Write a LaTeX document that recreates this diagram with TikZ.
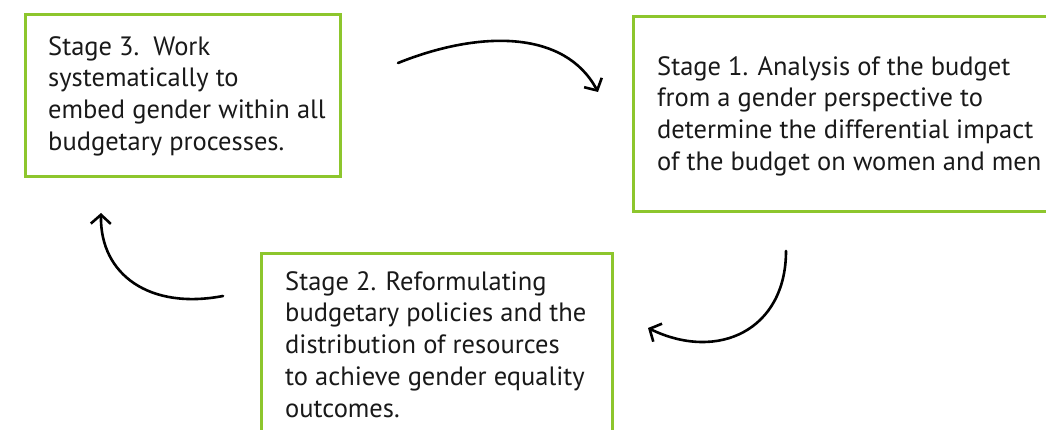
\documentclass[tikz,border=0pt]{standalone}
\usepackage{fontspec}
\setmainfont{PT Sans}
\usetikzlibrary{arrows.meta}
\definecolor{boxgreen}{RGB}{141,198,45}
\tikzset{
  stagebox/.style={draw=boxgreen, line width=2.6pt, fill=none, inner sep=0pt, anchor=north west},
  stagetext/.style={anchor=north west, inner sep=0pt, align=left, font=\fontsize{26.5}{31.8}\selectfont, text=black!90},
  flow/.style={line width=2.6pt, line cap=round, -{Straight Barb[length=9pt,width=20pt,line width=2.6pt]}}
}
\begin{document}
\begin{tikzpicture}[x=1pt,y=-1pt]
\useasboundingbox (0,0) rectangle (1046,430);
\clip (0,0) rectangle (1046,430);
\node[stagebox, minimum width=315pt, minimum height=162pt] (s3) at (24,13) {};
\node[stagebox, minimum width=440pt, minimum height=195pt] (s1) at (632,15) {};
\node[stagebox, minimum width=351pt, minimum height=200pt] (s2) at (260,252) {};
\node[stagetext] (t3) at (48,36) {Stage 3.\ \ Work\\systematically to\\embed gender within all\\budgetary processes.};
\node[stagetext] (t1) at (657,56) {Stage 1. Analysis of the budget\\from a gender perspective to\\determine the differential impact\\of the budget on women and men};
\node[stagetext] (t2) at (285,271) {Stage 2. Reformulating\\budgetary policies and the\\distribution of resources\\to achieve gender equality\\outcomes.};
\coordinate (a3) at (398,63);
\coordinate (a1) at (598,92);
\coordinate (b1) at (786,251);
\coordinate (b2) at (648,328);
\coordinate (c2) at (223,296);
\coordinate (c3) at (101,213);
\draw[flow] (a3) .. controls (480,30) and (565,30) .. (a1);
\draw[flow] (b1) .. controls (786,330) and (718,362) .. (b2);
\draw[flow] (c2) .. controls (150,310) and (100,275) .. (c3);
\end{tikzpicture}
\end{document}
